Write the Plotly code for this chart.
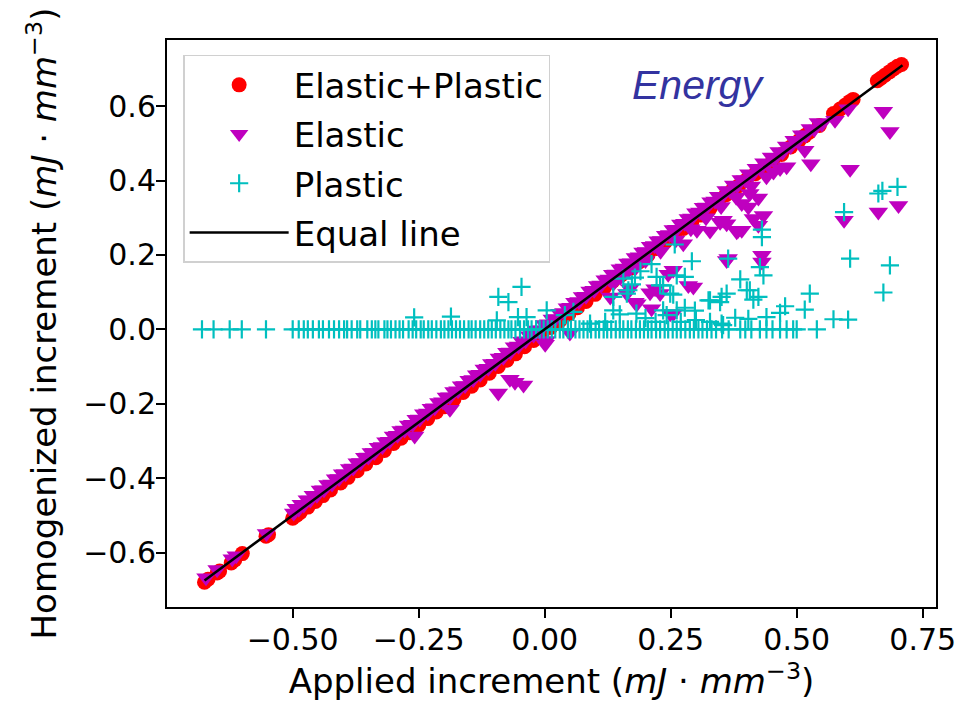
import plotly.graph_objects as go

# ---------------- data ----------------
ep_x = [-0.675, -0.668, -0.650, -0.645, -0.622, -0.615, -0.600, -0.553, -0.548,
        -0.500, -0.492, -0.485, -0.470, -0.455, -0.440, -0.425, -0.405, -0.390,
        -0.372, -0.355, -0.335, -0.318, -0.300, -0.285, -0.268, -0.250, -0.232,
        -0.215, -0.198, -0.180, -0.162, -0.145, -0.128, -0.110, -0.092, -0.075,
        -0.058, -0.040, -0.022, -0.005, 0.012, 0.030, 0.048, 0.065, 0.082, 0.100,
        0.118, 0.135, 0.152, 0.170, 0.188, 0.205, 0.222, 0.240, 0.258, 0.275,
        0.292, 0.310, 0.328, 0.345, 0.360, 0.372, 0.385, 0.400, 0.418, 0.435,
        0.452, 0.470, 0.488, 0.505, 0.516, 0.525, 0.545, 0.573, 0.586, 0.596,
        0.605, 0.612, 0.660, 0.667, 0.675, 0.684, 0.692, 0.700, 0.708]
ep_y = [-0.680, -0.672, -0.655, -0.650, -0.628, -0.620, -0.603, -0.556, -0.552,
        -0.508, -0.500, -0.492, -0.478, -0.463, -0.447, -0.432, -0.413, -0.398,
        -0.380, -0.362, -0.345, -0.326, -0.307, -0.293, -0.278, -0.258, -0.240,
        -0.222, -0.208, -0.188, -0.170, -0.153, -0.136, -0.118, -0.100, -0.083,
        -0.066, -0.047, -0.030, -0.012, 0.005, 0.023, 0.041, 0.058, 0.075, 0.094,
        0.112, 0.129, 0.146, 0.164, 0.182, 0.200, 0.217, 0.236, 0.254, 0.271,
        0.289, 0.307, 0.325, 0.343, 0.362, 0.374, 0.386, 0.401, 0.418, 0.435,
        0.452, 0.470, 0.490, 0.508, 0.520, 0.530, 0.548, 0.580, 0.592, 0.602,
        0.612, 0.618, 0.668, 0.675, 0.683, 0.692, 0.700, 0.707, 0.712]

el_x = [-0.672, -0.650, -0.620, -0.612, -0.552, -0.498, -0.488, -0.478, -0.465,
        -0.452, -0.438, -0.422, -0.408, -0.395, -0.380, -0.365, -0.350, -0.338,
        -0.322, -0.308, -0.292, -0.278, -0.262, -0.248, -0.232, -0.218, -0.202,
        -0.188, -0.172, -0.158, -0.142, -0.128, -0.112, -0.098, -0.082, -0.068,
        -0.052, -0.038, -0.022, -0.008, 0.008, 0.022, 0.038, 0.052, 0.068, 0.082,
        0.098, 0.112, 0.128, 0.142, 0.158, 0.172, 0.188, 0.202, 0.218, 0.232,
        0.248, 0.262, 0.278, 0.292, 0.308, 0.322, 0.338, 0.352, 0.368, 0.382,
        0.398, 0.412, 0.428, 0.442, 0.458, 0.472, 0.488, 0.502, 0.518, 0.535,
        0.550,
        -0.493, -0.483, -0.471, -0.459, -0.445, -0.430, -0.415, -0.401, -0.387,
        -0.372, -0.357, -0.344, -0.330, -0.315, -0.300, -0.285, -0.270, -0.255,
        -0.240, -0.225, -0.210, -0.195, -0.180, -0.165, -0.150, -0.135, -0.120,
        -0.105, -0.090, -0.075, -0.060, -0.045, -0.030, -0.015, 0.000, 0.015,
        0.030, 0.045, 0.060, 0.075, 0.090, 0.105, 0.120, 0.135, 0.150, 0.165,
        0.180, 0.195, 0.210, 0.225, 0.240, 0.255, 0.270, 0.285, 0.300, 0.315,
        0.330, 0.345, 0.360, 0.375, 0.390, 0.405, 0.420, 0.435, 0.450, 0.465,
        0.480, 0.495, 0.510, 0.527, 0.543,
        0.150, 0.180, 0.200, 0.230, 0.260, 0.290, 0.320, 0.350, 0.380, 0.410, 0.440,
        0.672, 0.685, 0.606, 0.662, 0.702, 0.594, 0.576, 0.602, 0.528, 0.516,
        0.480, 0.467, 0.454, 0.424, 0.407, 0.434, 0.404, 0.391, 0.424, 0.391,
        0.431, 0.431, 0.364, 0.384, 0.348, 0.361, 0.354, 0.414, 0.328, 0.302,
        0.275, 0.295, 0.285, 0.255, 0.245, 0.229, 0.219, 0.209, 0.212, 0.249,
        0.183, 0.163, 0.169, 0.136, 0.130, 0.179, 0.255, 0.381, 0.361, 0.166,
        0.050,
        -0.092, -0.069, -0.059, -0.042, 0.001, -0.188, -0.258, 0.003]
el_y = [-0.668, -0.646, -0.617, -0.609, -0.549, -0.494, -0.483, -0.472, -0.459,
        -0.446, -0.431, -0.416, -0.401, -0.388, -0.373, -0.358, -0.343, -0.331,
        -0.315, -0.301, -0.285, -0.271, -0.255, -0.241, -0.225, -0.211, -0.195,
        -0.181, -0.165, -0.151, -0.135, -0.121, -0.105, -0.091, -0.075, -0.061,
        -0.045, -0.031, -0.015, -0.001, 0.015, 0.029, 0.045, 0.059, 0.075, 0.089,
        0.105, 0.119, 0.135, 0.149, 0.165, 0.179, 0.195, 0.209, 0.225, 0.239,
        0.255, 0.269, 0.285, 0.299, 0.315, 0.329, 0.345, 0.358, 0.372, 0.386,
        0.402, 0.416, 0.432, 0.446, 0.462, 0.476, 0.492, 0.506, 0.522, 0.538,
        0.552,
        -0.481, -0.470, -0.458, -0.446, -0.432, -0.417, -0.402, -0.388, -0.374,
        -0.359, -0.344, -0.331, -0.317, -0.302, -0.287, -0.272, -0.257, -0.242,
        -0.227, -0.212, -0.197, -0.182, -0.167, -0.152, -0.137, -0.122, -0.107,
        -0.092, -0.077, -0.062, -0.047, -0.032, -0.017, -0.002, 0.013, 0.028,
        0.043, 0.058, 0.073, 0.088, 0.103, 0.118, 0.133, 0.148, 0.163, 0.178,
        0.193, 0.208, 0.223, 0.238, 0.253, 0.268, 0.283, 0.298, 0.313, 0.328,
        0.343, 0.358, 0.373, 0.388, 0.403, 0.418, 0.433, 0.448, 0.463, 0.478,
        0.493, 0.508, 0.523, 0.540, 0.556,
        0.140, 0.165, 0.185, 0.210, 0.240, 0.270, 0.300, 0.330, 0.355, 0.385, 0.410,
        0.586, 0.532, 0.430, 0.315, 0.333, 0.293, 0.562, 0.593, 0.445, 0.481,
        0.437, 0.432, 0.423, 0.353, 0.365, 0.306, 0.329, 0.338, 0.280, 0.266,
        0.199, 0.181, 0.190, 0.266, 0.288, 0.284, 0.293, 0.298, 0.264, 0.266,
        0.230, 0.114, 0.118, 0.159, 0.148, 0.096, 0.109, 0.098, 0.055, 0.042,
        0.069, 0.096, 0.109, 0.123, 0.087, 0.073, 0.042, 0.262, 0.185, 0.158,
        -0.010,
        -0.171, -0.134, -0.142, -0.150, -0.040, -0.215, -0.287, -0.030]

pl_x = [-0.680, -0.657, -0.625, -0.601, -0.553,
        -0.500, -0.488, -0.478, -0.470, -0.460, -0.448, -0.440, -0.428, -0.418,
        -0.408, -0.398, -0.392, -0.383, -0.372, -0.366, -0.352, -0.343, -0.336,
        -0.330, -0.318, -0.312, -0.305, -0.296, -0.288, -0.281, -0.270, -0.262,
        -0.255, -0.246, -0.240, -0.231, -0.224, -0.215, -0.206, -0.199, -0.191,
        -0.184, -0.176, -0.168, -0.160, -0.151, -0.145, -0.137, -0.128, -0.120,
        -0.112, -0.105, -0.097, -0.088, -0.080, -0.072, -0.066, -0.058, -0.049,
        -0.041, -0.033, -0.026, -0.017, -0.010, -0.002, 0.006, 0.014, 0.021,
        0.030, 0.037, 0.046, 0.052, 0.061, 0.069, 0.077, 0.085, 0.092, 0.101,
        0.108, 0.117, 0.124, 0.132, 0.141, 0.149, 0.156, 0.165, 0.172, 0.181,
        0.189, 0.197, 0.205, 0.212, 0.221, 0.229, 0.238, 0.245, 0.254, 0.262,
        0.270, 0.279, 0.288, 0.296, 0.305, 0.313, 0.322, 0.331, 0.340, 0.352,
        0.365, 0.388, 0.398, 0.410, 0.427, 0.440, 0.452, 0.467, 0.480, 0.493,
        0.500, 0.540,
        -0.259, -0.186, -0.092, -0.072, -0.046, -0.053, -0.036, -0.095, 0.004,
        0.040, 0.057, 0.136, 0.149, 0.182, 0.242, 0.262, 0.278, 0.298, 0.328,
        0.351, 0.354, 0.328, 0.351, 0.378, 0.404, 0.440, 0.467, 0.477, 0.516,
        0.526, 0.573, 0.602, 0.672, 0.685, 0.606, 0.594, 0.662, 0.670, 0.700,
        0.431, 0.431, 0.427, 0.434, 0.388, 0.401, 0.424, 0.414, 0.364, 0.292,
        0.258, 0.212, 0.190, 0.179, 0.173, 0.222, 0.229, 0.255, 0.278, 0.262,
        0.235, 0.249, 0.163, 0.166, 0.156, 0.136, 0.235, 0.361, 0.348, 0.325,
        0.407, 0.200, 0.220, 0.120, 0.090, 0.300, 0.270]
pl_y = [0.0, 0.0, 0.0, 0.0, 0.0,
        0.0, 0.0, 0.0, 0.0, 0.0, 0.0, 0.0, 0.0, 0.0,
        0.0, 0.0, 0.0, 0.0, 0.0, 0.0, 0.0, 0.0, 0.0,
        0.0, 0.0, 0.0, 0.0, 0.0, 0.0, 0.0, 0.0, 0.0,
        0.0, 0.0, 0.0, 0.0, 0.0, 0.0, 0.0, 0.0, 0.0,
        0.0, 0.0, 0.0, 0.0, 0.0, 0.0, 0.0, 0.0, 0.0,
        0.0, 0.0, 0.0, 0.0, 0.0, 0.0, 0.0, 0.0, 0.0,
        0.0, 0.0, 0.0, 0.0, 0.0, 0.0, 0.0, 0.0, 0.0,
        0.0, 0.0, 0.0, 0.0, 0.0, 0.0, 0.0, 0.0, 0.0, 0.0,
        0.0, 0.0, 0.0, 0.0, 0.0, 0.0, 0.0, 0.0, 0.0, 0.0,
        0.0, 0.0, 0.0, 0.0, 0.0, 0.0, 0.0, 0.0, 0.0, 0.0,
        0.0, 0.0, 0.0, 0.0, 0.0, 0.0, 0.0, 0.0, 0.0, 0.0,
        0.0, 0.0, 0.0, 0.0, 0.0, 0.0, 0.0, 0.0, 0.0, 0.0,
        0.0, 0.0,
        0.032, 0.034, 0.087, 0.073, 0.114, 0.033, 0.033, 0.024, 0.051,
        0.038, 0.047, 0.051, 0.040, 0.042, 0.038, 0.051, 0.058, 0.050, 0.078,
        0.087, 0.011, 0.020, 0.015, 0.031, 0.028, 0.033, 0.044, 0.062, 0.053,
        0.096, 0.027, 0.026, 0.099, 0.172, 0.190, 0.315, 0.365, 0.372, 0.383,
        0.268, 0.248, 0.167, 0.145, 0.134, 0.105, 0.087, 0.080, 0.190, 0.183,
        0.228, 0.175, 0.156, 0.139, 0.121, 0.141, 0.118, 0.093, 0.141, 0.145,
        0.118, 0.096, 0.096, 0.105, 0.136, 0.087, 0.051, 0.096, 0.073, 0.078,
        0.105, 0.030, 0.020, 0.020, 0.015, 0.025, 0.020]

eq_x = [-0.675, 0.710]
eq_y = [-0.675, 0.710]

x_ticks = [-0.5, -0.25, 0.0, 0.25, 0.5, 0.75]
x_tick_text = ["\u22120.50", "\u22120.25", "0.00", "0.25", "0.50", "0.75"]
y_ticks = [-0.6, -0.4, -0.2, 0.0, 0.2, 0.4, 0.6]
y_tick_text = ["\u22120.6", "\u22120.4", "\u22120.2", "0.0", "0.2", "0.4", "0.6"]

FONT = "DejaVu Sans"

fig = go.Figure()
fig.add_trace(go.Scatter(x=ep_x, y=ep_y, mode="markers", name="Elastic+Plastic",
                         legendgroup="a",
                         marker=dict(symbol="circle", size=15, color="#ff0000",
                                     line=dict(width=0))))
fig.add_trace(go.Scatter(x=el_x, y=el_y, mode="markers", name="Elastic",
                         legendgroup="b",
                         marker=dict(symbol="triangle-down", size=17, color="#bf00bf",
                                     line=dict(width=0))))
fig.add_trace(go.Scatter(x=pl_x, y=pl_y, mode="markers", name="Plastic",
                         legendgroup="c",
                         marker=dict(symbol="cross-thin", size=13, color="#00bfbf",
                                     line=dict(width=2.2, color="#00bfbf"))))
fig.add_trace(go.Scatter(x=eq_x, y=eq_y, mode="lines", name="Equal line",
                         legendgroup="d",
                         line=dict(color="black", width=2.5)))

axis_common = dict(showgrid=False, zeroline=False, showline=True, linecolor="black",
                   linewidth=2, mirror=True, ticks="outside", ticklen=9,
                   tickwidth=1.5, tickcolor="black",
                   tickfont=dict(family=FONT, size=30, color="black"))

fig.update_layout(
    width=957, height=701,
    margin=dict(l=167, r=21, t=40, b=94, autoexpand=False),
    paper_bgcolor="white", plot_bgcolor="white",
    xaxis=dict(range=[-0.7494, 0.7764], tickvals=x_ticks, ticktext=x_tick_text,
               ticklabelstandoff=-4,
               title=dict(text="Applied increment (<i>mJ</i> \u00b7 <i>mm</i><sup>\u22123</sup>)",
                          font=dict(family=FONT, size=34, color="black"), standoff=8),
               **axis_common),
    yaxis=dict(range=[-0.7465, 0.7777], tickvals=y_ticks, ticktext=y_tick_text,
               ticklabelstandoff=-6,
               title=dict(text="Homogenized increment (<i>mJ</i> \u00b7 <i>mm</i><sup>\u22123</sup>)",
                          font=dict(family=FONT, size=34, color="black"), standoff=16),
               **axis_common),
    legend=dict(x=0.021, y=0.974, xanchor="left", yanchor="top",
                bgcolor="rgba(255,255,255,0.8)", bordercolor="#d0d0d0", borderwidth=1.5,
                font=dict(family=FONT, size=34, color="black"),
                itemwidth=99,
                traceorder="grouped", tracegroupgap=2),
    showlegend=True,
)

fig.add_annotation(text="<i>Energy</i>", xref="paper", yref="paper",
                   x=0.691, y=0.92, xanchor="center", yanchor="middle",
                   showarrow=False,
                   font=dict(family="Liberation Sans", size=41, color="#3333a0"))

fig.write_html("out.html")
